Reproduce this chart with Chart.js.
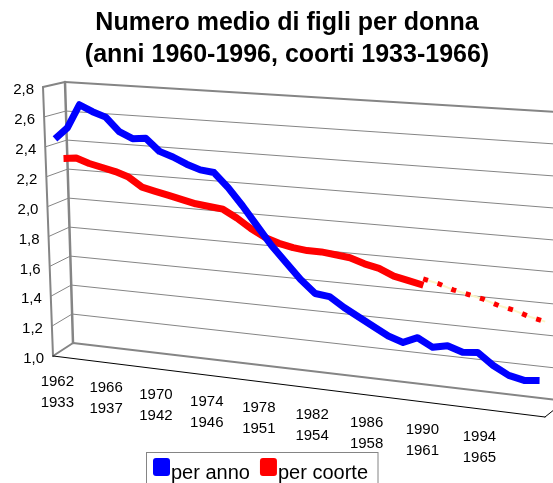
<!DOCTYPE html>
<html>
<head>
<meta charset="utf-8">
<script src="https://cdn.jsdelivr.net/npm/chart.js@4.4.1/dist/chart.umd.min.js"></script>
<style>
  body { margin: 0; background: #fff; }
  canvas { display: block; }
</style>
</head>
<body>
<canvas id="chart" width="553" height="483"></canvas>
<script>
const anni = ['1962', '1963', '1964', '1965', '1966', '1967', '1968', '1969', '1970', '1971',
    '1972', '1973', '1974', '1975', '1976', '1977', '1978', '1979', '1980', '1981',
    '1982', '1983', '1984', '1985', '1986', '1987', '1988', '1989', '1990', '1991',
    '1992', '1993', '1994', '1995', '1996'];

const perAnno = [2.45, 2.53, 2.69, 2.65, 2.62, 2.53, 2.49, 2.50, 2.42, 2.39,
    2.35, 2.32, 2.31, 2.22, 2.11, 1.99, 1.87, 1.77, 1.67, 1.59,
    1.58, 1.52, 1.47, 1.42, 1.37, 1.34, 1.38, 1.33, 1.35, 1.32,
    1.33, 1.26, 1.21, 1.19, 1.20];

const perCoorte = [2.30, 2.31, 2.28, 2.26, 2.24, 2.21, 2.15, 2.13, 2.11, 2.09,
    2.07, 2.06, 2.05, 2.00, 1.94, 1.89, 1.86, 1.84, 1.83, 1.83,
    1.82, 1.81, 1.78, 1.76, 1.72, 1.70, 1.68, null, null, null,
    null, null, null, null, null];

// coorti stimate (tratteggio)
const stimaCoorte = [null, null, null, null, null, null, null, null, null, null,
    null, null, null, null, null, null, null, null, null, null,
    null, null, null, null, null, null, 1.72, 1.70, 1.67, 1.65,
    1.63, 1.60, 1.58, 1.55, 1.53];

const etichetteAnni = ['1962', '1966', '1970', '1974', '1978', '1982', '1986', '1990', '1994'];
const etichetteCoorti = ['1933', '1937', '1942', '1946', '1951', '1954', '1958', '1961', '1965'];

const yMin = 1.0, yMax = 2.8, yStep = 0.2;

const FONT = '"Liberation Sans", Arial, sans-serif';

// pseudo 3D: front and back plane of the plot box (TL, TR, BR, BL)
const FRONT = [[43, 87], [535, 120], [545, 417], [53, 356]];
const BACK = [[65, 82], [557, 112], [565, 401], [73, 343]];

function quadMap(q) {
    const [p0, p1, p2, p3] = q;
    const dx1 = p1[0] - p2[0], dx2 = p3[0] - p2[0], dx3 = p0[0] - p1[0] + p2[0] - p3[0];
    const dy1 = p1[1] - p2[1], dy2 = p3[1] - p2[1], dy3 = p0[1] - p1[1] + p2[1] - p3[1];
    const den = dx1 * dy2 - dx2 * dy1;
    const g = (dx3 * dy2 - dx2 * dy3) / den;
    const h = (dx1 * dy3 - dx3 * dy1) / den;
    const a = p1[0] - p0[0] + g * p1[0], b = p3[0] - p0[0] + h * p3[0], c = p0[0];
    const d = p1[1] - p0[1] + g * p1[1], e = p3[1] - p0[1] + h * p3[1], f = p0[1];
    return (u, v) => {
        const w = g * u + h * v + 1;
        return [(a * u + b * v + c) / w, (d * u + e * v + f) / w];
    };
}

const frontMap = quadMap(FRONT);
const backMap = quadMap(BACK);

function project(u, v, depth) {
    const f = frontMap(u, v), b = backMap(u, v);
    return [f[0] + (b[0] - f[0]) * depth, f[1] + (b[1] - f[1]) * depth];
}

function toUnit(chart, px, py) {
    const x = chart.scales.x, y = chart.scales.y;
    return [(px - x.left) / x.width, (py - y.top) / y.height];
}

function segment(ctx, a, b, color, width) {
    ctx.beginPath();
    ctx.moveTo(a[0], a[1]);
    ctx.lineTo(b[0], b[1]);
    ctx.strokeStyle = color;
    ctx.lineWidth = width;
    ctx.stroke();
}

const box3d = {
    id: 'box3d',
    afterDatasetsUpdate(chart) {
        chart.data.datasets.forEach((ds, i) => {
            const meta = chart.getDatasetMeta(i);
            meta.data.forEach(pt => {
                if (pt.skip || isNaN(pt.x) || isNaN(pt.y)) return;
                const [u, v] = toUnit(chart, pt.x, pt.y);
                const p = project(u, v, ds.depth);
                pt.x = p[0];
                pt.y = p[1];
            });
        });
    },
    beforeDatasetsDraw(chart) {
        const ctx = chart.ctx;
        const yScale = chart.scales.y, xScale = chart.scales.x;
        ctx.save();
        ctx.lineCap = 'round';

        yScale.ticks.forEach(tick => {
            const v = (yScale.getPixelForValue(tick.value) - yScale.top) / yScale.height;
            const edge = v < 0.001 || v > 0.999;
            segment(ctx, project(0, v, 1), project(1, v, 1), '#858585', edge ? 2 : 1);
            segment(ctx, project(0, v, 0), project(0, v, 1), '#858585', edge ? 2 : 1);

            const p = project(0, v, 0);
            ctx.fillStyle = '#000';
            ctx.font = '15px ' + FONT;
            ctx.textAlign = 'right';
            ctx.textBaseline = 'middle';
            ctx.fillText(tick.value.toFixed(1).replace('.', ','), p[0] - 9, p[1] + 3);
        });

        segment(ctx, project(0, 0, 0), project(0, 1, 0), '#858585', 2);
        segment(ctx, project(0, 0, 1), project(0, 1, 1), '#858585', 2.5);
        segment(ctx, project(0, 1, 0), project(1, 1, 0), '#000', 1);
        segment(ctx, project(1, 1, 0), project(1, 1, 1), '#000', 1);

        // category labels along the front edge of the floor
        const u0 = (xScale.getPixelForValue(0) - xScale.left) / xScale.width;
        const first = project(u0, 1, 0);
        ctx.fillStyle = '#000';
        ctx.font = '15px ' + FONT;
        ctx.textAlign = 'center';
        ctx.textBaseline = 'middle';
        etichetteAnni.forEach((anno, k) => {
            const idx = anni.indexOf(anno);
            const u = (xScale.getPixelForValue(idx) - xScale.left) / xScale.width;
            const p = project(u, 1, 0);
            const lx = first[0] - 2 + (p[0] - first[0]) * 0.944;
            ctx.fillText(anno, lx, p[1] + 25);
            ctx.fillText(etichetteCoorti[k], lx, p[1] + 46);
        });
        ctx.restore();
    },
    afterDraw(chart) {
        const ctx = chart.ctx;
        const items = chart.data.datasets.filter(ds => !ds.hideInLegend);
        ctx.save();
        ctx.font = '20px ' + FONT;
        ctx.textAlign = 'left';
        ctx.textBaseline = 'alphabetic';
        let x = 153;
        const top = 452;
        items.forEach(ds => {
            ctx.fillStyle = ds.borderColor;
            ctx.beginPath();
            if (ctx.roundRect) {
                ctx.roundRect(x, top + 6, 17, 18, 3);
            } else {
                ctx.rect(x, top + 6, 17, 18);
            }
            ctx.fill();
            ctx.fillStyle = '#000';
            ctx.fillText(ds.label, x + 18, top + 27);
            x += 18 + ctx.measureText(ds.label).width + 10;
        });
        ctx.strokeStyle = '#858585';
        ctx.lineWidth = 1;
        ctx.strokeRect(146.5, top + 0.5, x - 146.5, 45);
        ctx.restore();
    }
};

const ctx = document.getElementById('chart').getContext('2d');
new Chart(ctx, {
    type: 'line',
    plugins: [box3d],
    data: {
        labels: anni,
        datasets: [
            {
                label: 'per anno',
                data: perAnno,
                depth: 0.17,
                borderColor: '#0000ff',
                borderWidth: 7,
                borderJoinStyle: 'round',
                pointRadius: 0,
                tension: 0,
                clip: false,
                order: 0
            },
            {
                label: 'per coorte',
                data: perCoorte,
                depth: 0.53,
                borderColor: '#ff0000',
                borderWidth: 7,
                borderJoinStyle: 'round',
                pointRadius: 0,
                tension: 0,
                clip: false,
                order: 1
            },
            {
                label: 'stima',
                data: stimaCoorte,
                depth: 0.53,
                hideInLegend: true,
                borderColor: '#ff0000',
                borderWidth: 5,
                borderDash: [5, 10],
                pointRadius: 0,
                tension: 0,
                clip: false,
                order: 2
            },
            {
                label: 'stima fondo',
                data: stimaCoorte,
                depth: 0.53,
                hideInLegend: true,
                borderColor: '#fbf6c8',
                borderWidth: 2,
                pointRadius: 0,
                tension: 0,
                clip: false,
                order: 3
            }
        ]
    },
    options: {
        responsive: false,
        animation: false,
        events: [],
        layout: {
            padding: { left: 21 }
        },
        plugins: {
            legend: { display: false },
            tooltip: { enabled: false },
            title: {
                display: true,
                text: ['Numero medio di figli per donna', '(anni 1960-1996, coorti 1933-1966)'],
                color: '#000',
                font: { family: FONT, size: 25, weight: 'bold', lineHeight: 1.28 },
                padding: { top: 7, bottom: 0 }
            }
        },
        scales: {
            x: {
                type: 'category',
                display: false,
                offset: true
            },
            y: {
                display: false,
                min: yMin,
                max: yMax,
                ticks: { stepSize: yStep }
            }
        }
    }
});
</script>
</body>
</html>
